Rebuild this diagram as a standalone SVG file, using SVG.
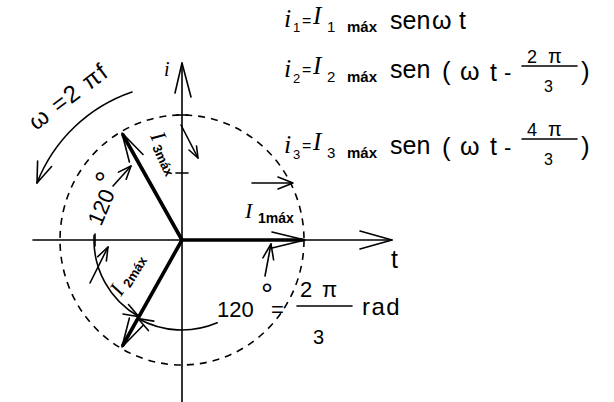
<svg xmlns="http://www.w3.org/2000/svg" width="614" height="402" viewBox="0 0 614 402">
<defs>
<style>
.ln{fill:none;stroke:#000;stroke-width:1.6;stroke-linecap:round;stroke-linejoin:round}
.vec{fill:none;stroke:#000;stroke-width:3.6;stroke-linecap:round}
.dash{fill:none;stroke:#000;stroke-width:1.6;stroke-dasharray:7 6}
.s{font-family:"Liberation Sans",Arial,sans-serif;fill:#000}
.it{font-family:"Liberation Serif","Times New Roman",serif;font-style:italic;fill:#000}
.b{font-family:"Liberation Sans",Arial,sans-serif;font-weight:bold;fill:#000}
</style>
</defs>
<rect width="614" height="402" fill="#fff"/>

<g id="axes">
<line class="ln" x1="182" y1="63" x2="182" y2="402"/>
<polyline class="ln" points="175,93 182,63 191,97"/>
<line class="ln" x1="176" y1="115" x2="188" y2="115"/>
<line class="ln" x1="176" y1="173" x2="188" y2="173"/>
<line class="ln" x1="33" y1="240" x2="392" y2="240"/>
<polyline class="ln" points="360,231 392,240 360,249"/>
<line class="ln" x1="95" y1="234" x2="95" y2="246"/>
<text class="it" x="164" y="76" font-size="20">i</text>
<text class="s" x="391" y="268" font-size="25">t</text>
</g>

<g id="circle">
<ellipse class="dash" cx="182" cy="240" rx="122" ry="125"/>
</g>

<g id="vector-I1">
<line class="vec" x1="182" y1="240" x2="302" y2="240"/>
<polyline class="ln" stroke-width="2.2" points="272,232 305,240 272,248"/>
<line class="ln" x1="252" y1="183" x2="292" y2="183"/>
<polyline class="ln" stroke-width="2" points="278,177 293,183 278,189"/>
<text class="it" x="245" y="218" font-size="22">I</text>
<text class="b" x="258" y="223" font-size="14">1máx</text>
</g>

<g id="vector-I3">
<line class="vec" x1="182" y1="240" x2="123" y2="135"/>
<polyline class="ln" stroke-width="2" points="143,154.5 122,133 129.4,162"/>
<line class="ln" x1="181" y1="125" x2="198" y2="158"/>
<polyline class="ln" points="189,150 198,158 196.5,146"/>
<g transform="translate(150,136) rotate(65)">
<text class="it" x="0" y="0" font-size="22">I</text>
<text class="b" x="11" y="3" font-size="13">3máx</text>
</g>
</g>

<g id="vector-I2">
<line class="vec" x1="182" y1="240" x2="123" y2="345"/>
<polyline class="ln" stroke-width="2" points="143,325.5 122,347 129.4,318"/>
<g transform="translate(121,297) rotate(-58)">
<text class="it" x="0" y="0" font-size="22">I</text>
<text class="b" x="12" y="3" font-size="13">2máx</text>
</g>
</g>

<g id="omega">
<path class="ln" d="M132,92 A156,156 0 0 0 37,183"/>
<polyline class="ln" points="51.6,166.5 37,183 37.6,161"/>
<text class="s" transform="translate(36,131) rotate(-37)" font-size="24" letter-spacing="1.5">ω =2 πf</text>
</g>

<g id="angle-left">
<path class="ln" d="M94.1,235.4 A88,88 0 0 0 138.9,316.7"/>
<polyline class="ln" points="123,314 138.9,316.7 128.5,304.6"/>
<line class="ln" x1="90" y1="283" x2="108" y2="247"/>
<polyline class="ln" points="97.8,256.6 108,247 106.4,260.9"/>
<line class="ln" x1="113" y1="186" x2="131" y2="166"/>
<polyline class="ln" points="118.4,172.1 131,166 126.2,179.2"/>
<g transform="translate(101,227) rotate(-67)">
<text class="s" x="0" y="0" font-size="22">120</text>
<text class="s" x="40" y="-4" font-size="30">°</text>
</g>
</g>

<g id="angle-right">
<path class="ln" d="M217.2,322.8 A90,90 0 0 1 138,318.5"/>
<polyline class="ln" points="148.4,330.6 138,318.5 153.8,321.1"/>
<line class="ln" x1="265" y1="276" x2="271" y2="244"/>
<polyline class="ln" points="262.9,257.8 271,244 273.6,259.8"/>
<text class="s" x="217" y="317" font-size="22">120</text>
<text class="s" x="261" y="304" font-size="30">°</text>
<text class="s" x="271" y="317" font-size="22">=</text>
<text class="s" x="300" y="297" font-size="22">2</text>
<text class="s" x="322" y="297" font-size="22">π</text>
<line class="ln" x1="297" y1="306" x2="352" y2="306"/>
<text class="s" x="313" y="344" font-size="20">3</text>
<text class="s" x="362" y="315" font-size="24" letter-spacing="1.5">rad</text>
</g>

<g id="eq1">
<text class="it" x="284" y="27" font-size="26">i</text>
<text class="s" x="293" y="32" font-size="13">1</text>
<text class="s" x="302" y="26" font-size="16">=</text>
<text class="it" x="313" y="24" font-size="25">I</text>
<text class="s" x="327" y="32" font-size="15">1</text>
<text class="b" x="347" y="32" font-size="15">máx</text>
<text class="s" x="390" y="29" font-size="25">sen</text>
<text class="s" x="432" y="29" font-size="25">ω</text>
<text class="s" x="459" y="29" font-size="25">t</text>
</g>

<g id="eq2">
<text class="it" x="284" y="77" font-size="26">i</text>
<text class="s" x="293" y="83" font-size="13">2</text>
<text class="s" x="302" y="75" font-size="16">=</text>
<text class="it" x="313" y="74" font-size="25">I</text>
<text class="s" x="327" y="82" font-size="15">2</text>
<text class="b" x="347" y="82" font-size="15">máx</text>
<text class="s" x="390" y="78" font-size="25">sen</text>
<text class="s" x="442" y="80" font-size="26">(</text>
<text class="s" x="460" y="80" font-size="25">ω</text>
<text class="s" x="490" y="81" font-size="25">t</text>
<text class="s" x="504" y="80" font-size="22">-</text>
<text class="s" x="527" y="63" font-size="18">2</text>
<text class="s" x="548" y="63" font-size="20">π</text>
<line class="ln" x1="522" y1="66" x2="577" y2="66"/>
<text class="s" x="544" y="92" font-size="16">3</text>
<text class="s" x="581" y="80" font-size="26">)</text>
</g>

<g id="eq3">
<text class="it" x="284" y="153" font-size="26">i</text>
<text class="s" x="293" y="159" font-size="13">3</text>
<text class="s" x="302" y="151" font-size="16">=</text>
<text class="it" x="313" y="150" font-size="25">I</text>
<text class="s" x="327" y="158" font-size="15">3</text>
<text class="b" x="347" y="158" font-size="15">máx</text>
<text class="s" x="390" y="154" font-size="25">sen</text>
<text class="s" x="442" y="156" font-size="26">(</text>
<text class="s" x="460" y="155" font-size="25">ω</text>
<text class="s" x="490" y="155" font-size="25">t</text>
<text class="s" x="504" y="155" font-size="22">-</text>
<text class="s" x="527" y="136" font-size="18">4</text>
<text class="s" x="548" y="136" font-size="20">π</text>
<line class="ln" x1="522" y1="139" x2="577" y2="139"/>
<text class="s" x="544" y="165" font-size="16">3</text>
<text class="s" x="581" y="155" font-size="26">)</text>
</g>
</svg>
